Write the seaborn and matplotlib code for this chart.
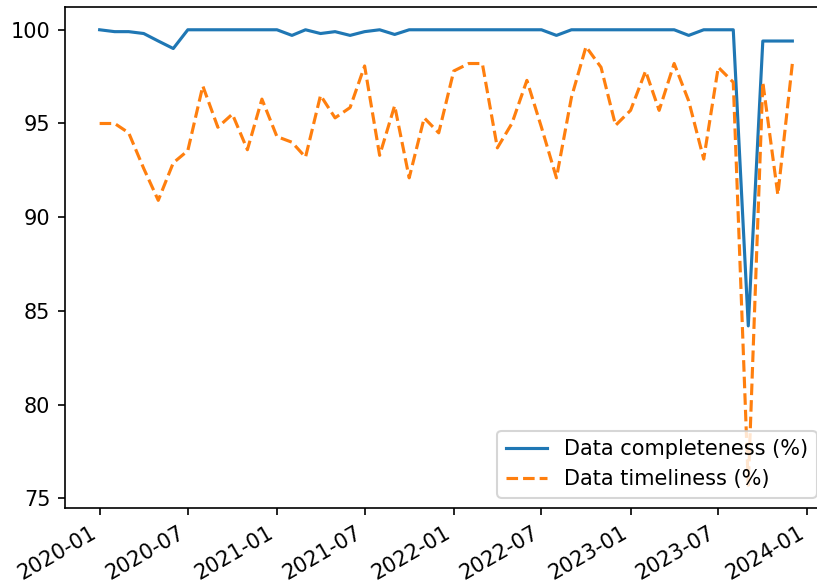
import pandas as pd
import matplotlib
matplotlib.use("Agg")
import matplotlib.pyplot as plt
import matplotlib.dates as mdates
import seaborn as sns

# monthly values, 2020-01 .. 2023-12
months = pd.date_range("2020-01-01", periods=48, freq="MS")

completeness = [
    100, 99.9, 99.9, 99.8, 99.4, 99.0, 100, 100, 100, 100, 100, 100,
    100, 99.7, 100, 99.8, 99.9, 99.7, 99.9, 100, 99.75, 100, 100, 100,
    100, 100, 100, 100, 100, 100, 100, 99.7, 100, 100, 100, 100,
    100, 100, 100, 100, 99.7, 100, 100, 100, 84.2, 99.4, 99.4, 99.4,
]

timeliness = [
    95.0, 95.0, 94.5, 92.6, 90.9, 92.9, 93.55, 97.0, 94.8, 95.5, 93.6, 96.3,
    94.3, 94.0, 93.2, 96.5, 95.3, 95.85, 98.07, 93.3, 95.95, 92.1, 95.3, 94.5,
    97.8, 98.2, 98.2, 93.7, 95.0, 97.3, 94.8, 92.1, 96.4, 99.1, 98.0, 94.9,
    95.7, 97.8, 95.7, 98.2, 96.2, 93.1, 98.0, 97.2, 75.7, 97.2, 91.2, 98.2,
]

labels = ["Data completeness (%)", "Data timeliness (%)"]


def main():
    fig = plt.figure(figsize=(817 / 150, 585 / 150), dpi=150)
    ax = fig.add_axes([65 / 817, 77 / 585, 762 / 817, 501 / 585])

    sns.lineplot(x=months, y=completeness, color="C0", label=labels[0], ax=ax)
    sns.lineplot(x=months, y=timeliness, color="C1", linestyle="--",
                 label=labels[1], ax=ax)

    ax.xaxis.set_major_locator(mdates.MonthLocator(bymonth=[1, 7]))
    ax.xaxis.set_major_formatter(mdates.DateFormatter("%Y-%m"))
    plt.setp(ax.get_xticklabels(), rotation=30, ha="right")
    ax.set_xlabel("")
    ax.set_ylabel("")
    ax.legend(loc="lower right")

    fig.savefig("out.png", dpi=150)


if __name__ == "__main__":
    main()
